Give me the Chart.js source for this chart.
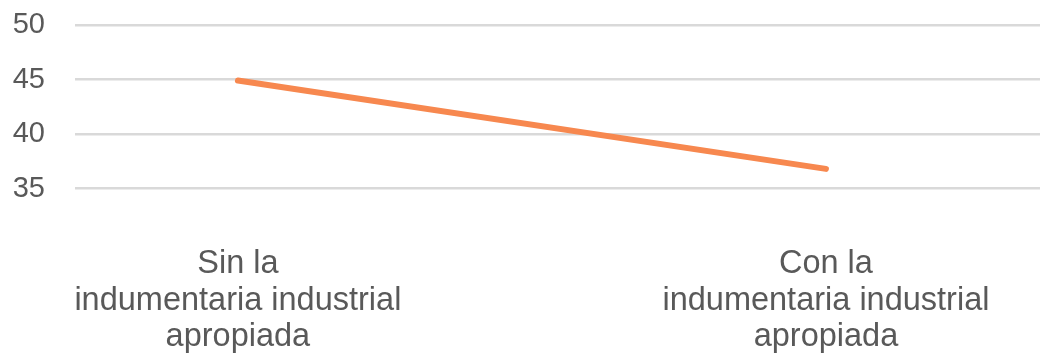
<!DOCTYPE html>
<html>
<head>
<meta charset="utf-8">
<script src="https://cdn.jsdelivr.net/npm/chart.js@4"></script>
<style>
  html, body { margin: 0; padding: 0; background: #ffffff; }
  #wrap { width: 1040px; height: 356px; position: relative; }
</style>
</head>
<body>
<div id="wrap"><canvas id="c"></canvas></div>
<script>
// Category labels, one entry per point (lines of each label)
const categories = [
  ["Sin la", "indumentaria industrial", "apropiada"],
  ["Con la", "indumentaria industrial", "apropiada"]
];
// Series values
const values = [44.9, 36.8];
// Value-axis tick labels shown
const yTicks = [35, 40, 45, 50];

const points = values.map((v, i) => ({ x: i, y: v }));

new Chart(document.getElementById('c'), {
  type: 'line',
  data: {
    datasets: [{
      data: points,
      borderColor: '#f7884f',
      borderWidth: 6,
      borderCapStyle: 'round',
      pointRadius: 0,
      pointHoverRadius: 0,
      tension: 0,
      fill: false
    }]
  },
  options: {
    responsive: true,
    maintainAspectRatio: false,
    animation: false,
    events: [],
    layout: { padding: { top: 25, right: 0, bottom: 0, left: 0 } },
    plugins: { legend: { display: false }, tooltip: { enabled: false } },
    scales: {
      x: {
        type: 'linear',
        min: -0.277,
        max: 1.364,
        grid: { display: false, drawTicks: false },
        border: { display: false },
        afterBuildTicks: (axis) => {
          axis.ticks = categories.map((_, i) => ({ value: i }));
        },
        afterFit: (axis) => {
          axis.height = 113;
          axis.paddingLeft = 0;
          axis.paddingRight = 0;
        },
        ticks: {
          autoSkip: false,
          maxRotation: 0,
          padding: 3,
          color: '#595959',
          font: { family: '"Liberation Sans", Arial, sans-serif', size: 32.5, lineHeight: 1.12 },
          callback: (v) => categories[v] || ''
        }
      },
      y: {
        min: 30,
        max: 50,
        afterBuildTicks: (axis) => {
          axis.ticks = [30].concat(yTicks).map(v => ({ value: v }));
        },
        afterFit: (axis) => {
          axis.width = 75;
          axis.paddingTop = 0;
          axis.paddingBottom = 0;
        },
        grid: {
          drawTicks: false,
          lineWidth: 2.5,
          color: (ctx) => (ctx.tick && yTicks.includes(ctx.tick.value)) ? '#d9d9d9' : 'rgba(0,0,0,0)'
        },
        border: { display: false },
        ticks: {
          padding: 30,
          color: '#595959',
          font: { family: '"Liberation Sans", Arial, sans-serif', size: 29 },
          callback: (v) => yTicks.includes(v) ? String(v) : ''
        }
      }
    }
  }
});
</script>
</body>
</html>
